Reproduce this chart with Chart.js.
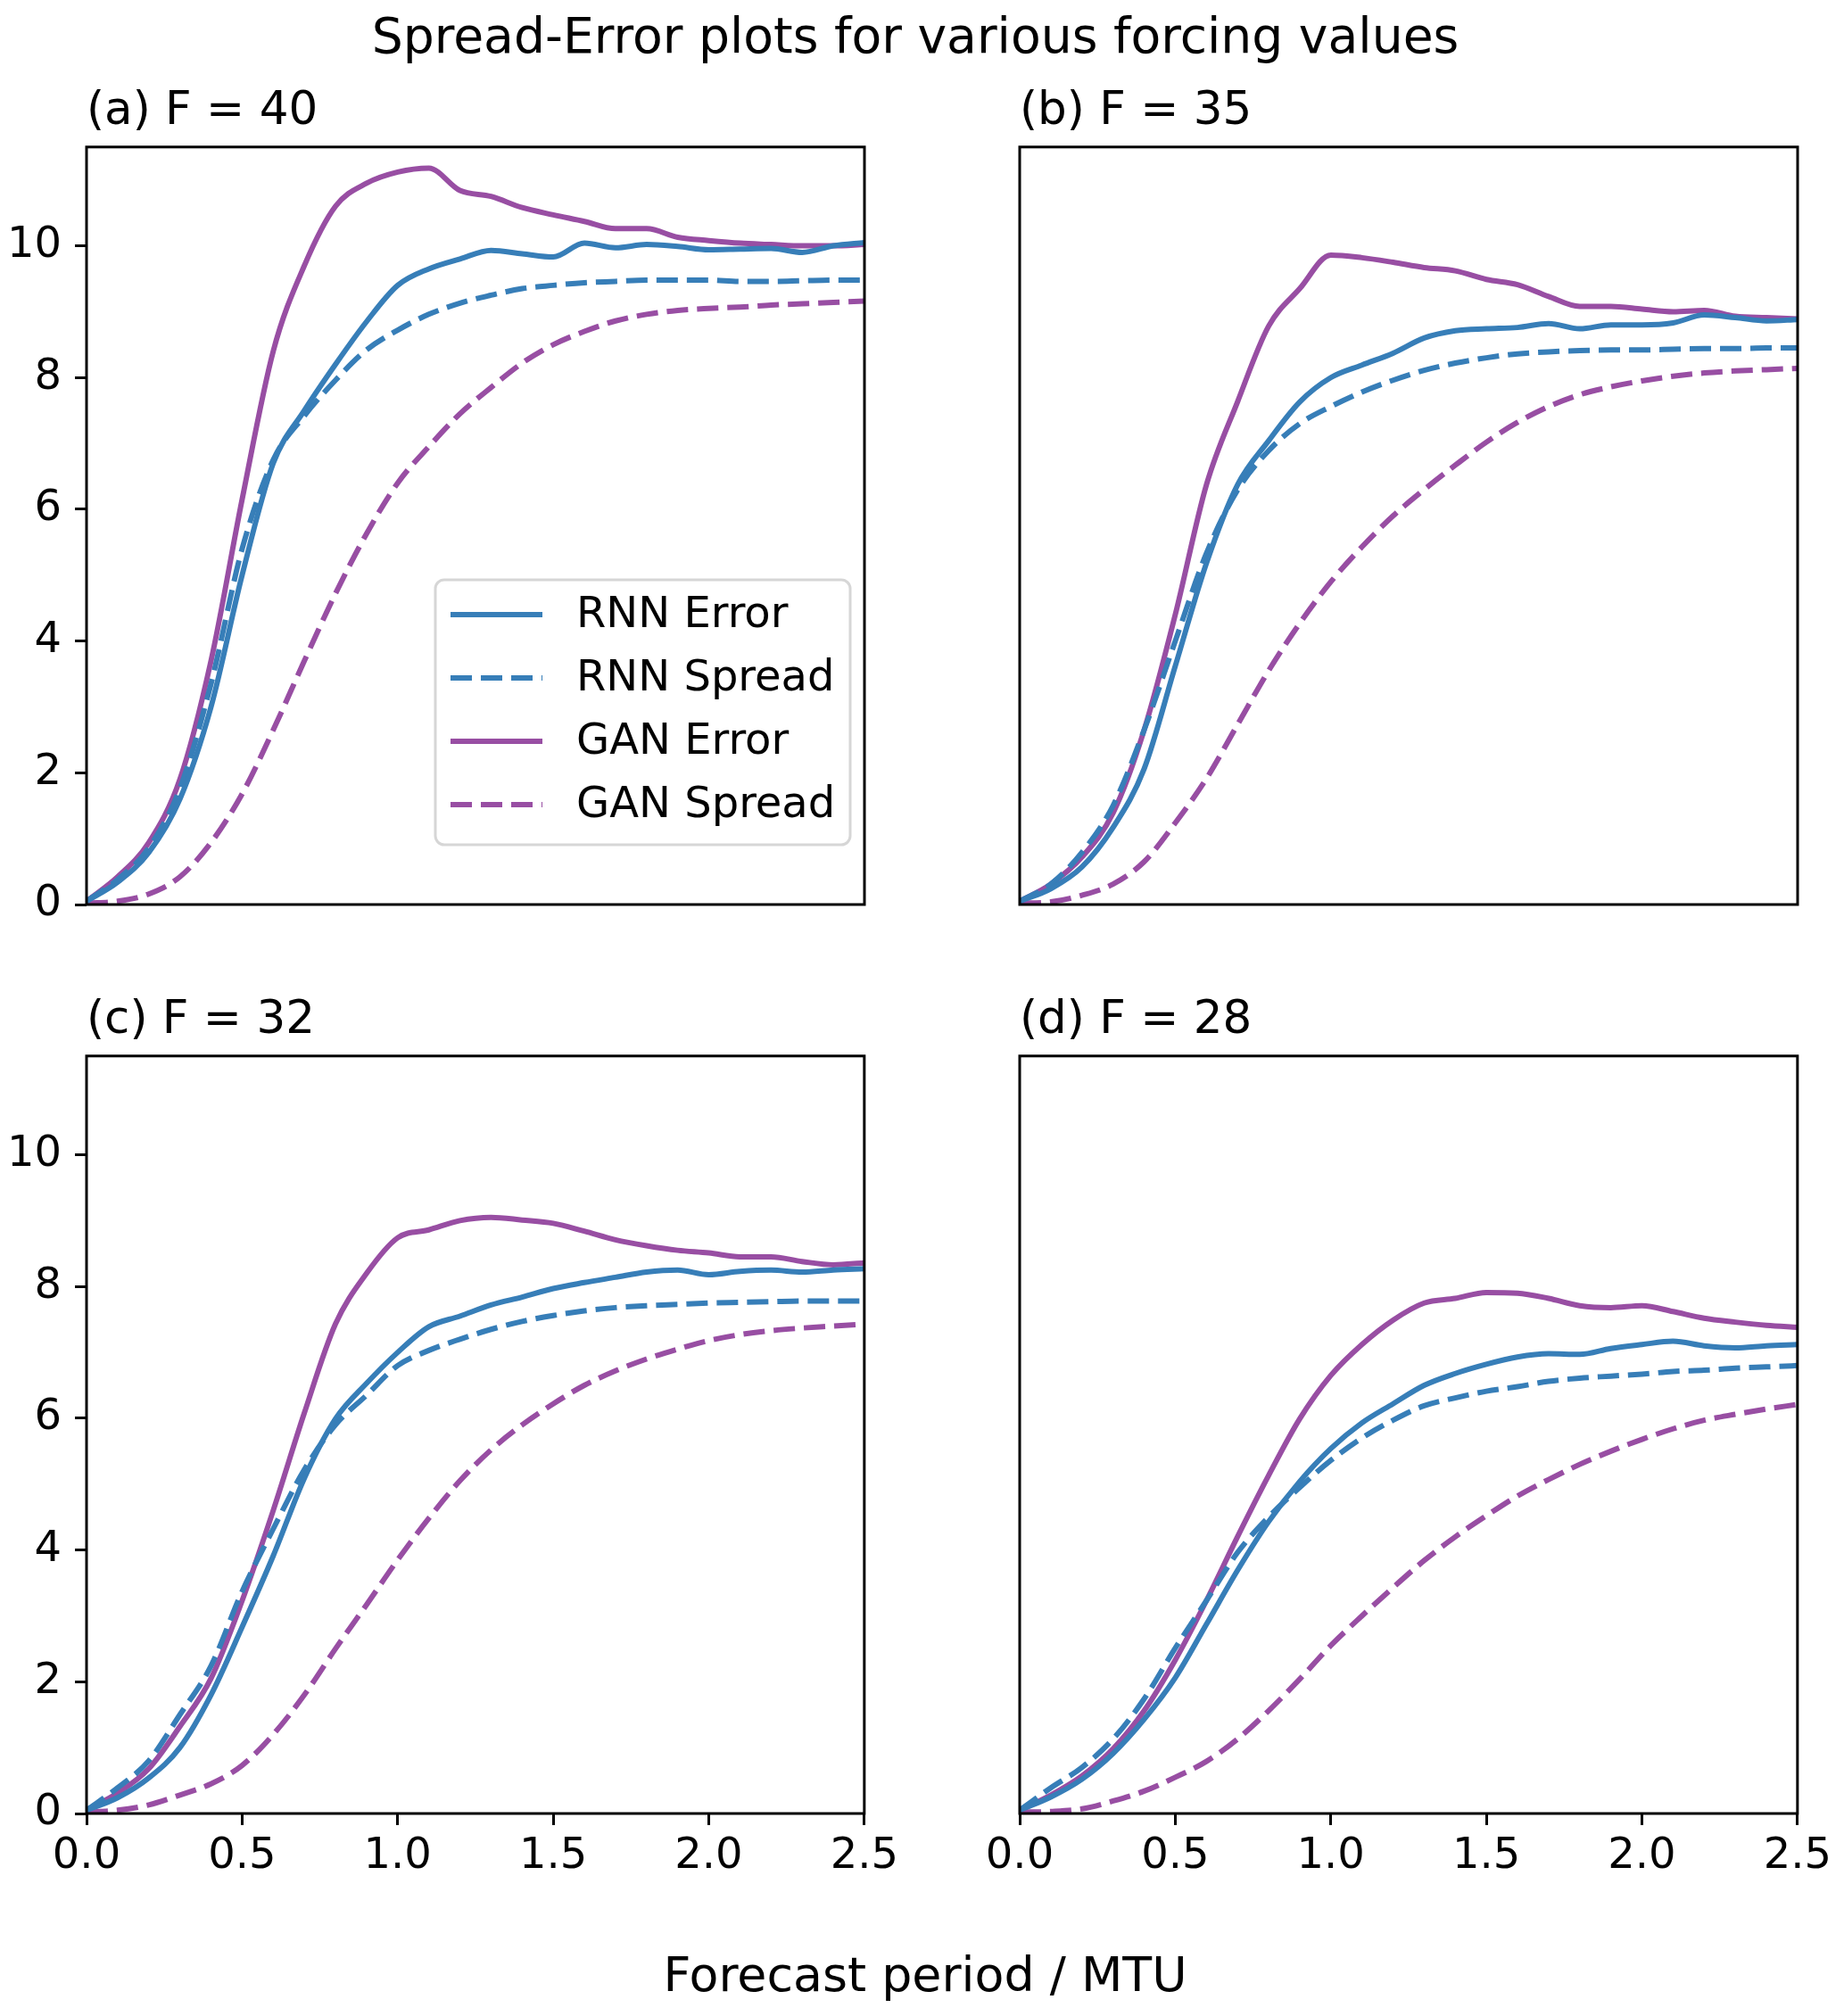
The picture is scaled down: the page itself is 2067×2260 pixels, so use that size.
<!DOCTYPE html>
<html>
<head>
<meta charset="utf-8">
<script src="https://cdn.jsdelivr.net/npm/chart.js@4.4.1/dist/chart.umd.min.js"></script>
<style>
  body { margin: 0; background: #fff; }
  #page { position: relative; width: 2067px; height: 2260px; background: #fff; font-family: 'DejaVu Sans', sans-serif; color: #000; }
  canvas { position: absolute; }
  .figtext { position: absolute; white-space: nowrap; line-height: normal; }
</style>
</head>
<body>
<div id="page">
  <div class="figtext" id="suptitle" style="left:0; width:2052px; text-align:center; top:8px; font-size:55.2px;">Spread-Error plots for various forcing values</div>
  <canvas id="panelA" width="1014" height="999" style="left:0px; top:65px;"></canvas>
  <canvas id="panelB" width="1014" height="999" style="left:1046px; top:65px;"></canvas>
  <canvas id="panelC" width="1014" height="1049" style="left:0px; top:1084px;"></canvas>
  <canvas id="panelD" width="1014" height="1049" style="left:1046px; top:1084px;"></canvas>
  <div class="figtext" id="xlabel" style="left:0; width:2074px; text-align:center; top:2182px; font-size:53.8px;">Forecast period / MTU</div>
</div>
<script>
// Data (x step 0.1 MTU)
const X_VALUES = [0, 0.1, 0.2, 0.3, 0.4, 0.5, 0.6, 0.7, 0.8, 0.9, 1.0, 1.1, 1.2, 1.3, 1.4, 1.5, 1.6, 1.7, 1.8, 1.9, 2.0, 2.1, 2.2, 2.3, 2.4, 2.5];
const X_TICKS = [0, 0.5, 1.0, 1.5, 2.0, 2.5];
const Y_TICKS = [0, 2, 4, 6, 8, 10];
const SERIES_LABELS = ['RNN Error', 'RNN Spread', 'GAN Error', 'GAN Spread'];
const PANEL_TITLES = ['(a) F = 40', '(b) F = 35', '(c) F = 32', '(d) F = 28'];

//(a) F = 40
const rnnErrorA  = [0.05, 0.34, 0.79, 1.6, 3.0, 5.0, 6.7, 7.5, 8.2, 8.85, 9.4, 9.65, 9.8, 9.93, 9.88, 9.83, 10.04, 9.97, 10.02, 9.99, 9.94, 9.95, 9.96, 9.9, 10.0, 10.05];
const rnnSpreadA = [0.05, 0.38, 0.86, 1.76, 3.35, 5.4, 6.75, 7.42, 7.96, 8.42, 8.72, 8.96, 9.13, 9.25, 9.35, 9.4, 9.44, 9.46, 9.48, 9.48, 9.48, 9.46, 9.46, 9.47, 9.48, 9.48];
const ganErrorA  = [0.05, 0.42, 0.94, 1.9, 3.7, 6.15, 8.4, 9.7, 10.6, 10.95, 11.12, 11.18, 10.84, 10.75, 10.58, 10.47, 10.37, 10.26, 10.26, 10.13, 10.08, 10.04, 10.02, 10.0, 10.0, 10.02];
const ganSpreadA = [0.02, 0.05, 0.16, 0.42, 0.94, 1.68, 2.65, 3.7, 4.72, 5.63, 6.4, 6.95, 7.45, 7.85, 8.22, 8.5, 8.7, 8.86, 8.96, 9.02, 9.05, 9.07, 9.1, 9.12, 9.14, 9.16];

//(b) F = 35
const rnnErrorB  = [0.05, 0.24, 0.57, 1.17, 2.06, 3.62, 5.18, 6.37, 7.04, 7.63, 8.0, 8.19, 8.37, 8.6, 8.71, 8.74, 8.76, 8.82, 8.74, 8.8, 8.8, 8.83, 8.95, 8.91, 8.86, 8.88];
const rnnSpreadB = [0.05, 0.31, 0.79, 1.5, 2.65, 4.0, 5.33, 6.29, 6.89, 7.3, 7.56, 7.78, 7.96, 8.11, 8.22, 8.3, 8.36, 8.39, 8.41, 8.42, 8.42, 8.43, 8.44, 8.44, 8.45, 8.45];
const ganErrorB  = [0.05, 0.31, 0.72, 1.39, 2.65, 4.4, 6.37, 7.63, 8.78, 9.35, 9.86, 9.82, 9.75, 9.67, 9.62, 9.49, 9.41, 9.23, 9.08, 9.08, 9.04, 9.0, 9.02, 8.93, 8.91, 8.89];
const ganSpreadB = [0.02, 0.04, 0.14, 0.31, 0.65, 1.24, 1.91, 2.73, 3.55, 4.27, 4.9, 5.43, 5.9, 6.3, 6.67, 7.02, 7.32, 7.56, 7.74, 7.86, 7.95, 8.02, 8.07, 8.1, 8.12, 8.14];

//(c) F = 32
const rnnErrorC  = [0.05, 0.24, 0.54, 1.0, 1.8, 2.83, 3.91, 5.09, 5.99, 6.53, 7.0, 7.39, 7.55, 7.72, 7.84, 7.97, 8.06, 8.14, 8.22, 8.25, 8.18, 8.23, 8.25, 8.22, 8.25, 8.27];
const rnnSpreadC = [0.05, 0.39, 0.8, 1.5, 2.24, 3.37, 4.32, 5.22, 5.9, 6.35, 6.8, 7.03, 7.2, 7.35, 7.47, 7.56, 7.63, 7.68, 7.71, 7.73, 7.75, 7.76, 7.77, 7.78, 7.78, 7.78];
const ganErrorC  = [0.05, 0.31, 0.68, 1.32, 2.05, 3.23, 4.6, 6.08, 7.43, 8.2, 8.74, 8.86, 9.0, 9.05, 9.01, 8.96, 8.84, 8.71, 8.62, 8.55, 8.51, 8.45, 8.45, 8.38, 8.33, 8.36];
const ganSpreadC = [0.02, 0.05, 0.13, 0.28, 0.45, 0.73, 1.2, 1.8, 2.5, 3.17, 3.85, 4.48, 5.05, 5.52, 5.9, 6.22, 6.5, 6.72, 6.9, 7.05, 7.18, 7.27, 7.33, 7.37, 7.4, 7.43];

//(d) F = 28
const rnnErrorD  = [0.05, 0.25, 0.52, 0.91, 1.43, 2.06, 2.87, 3.69, 4.43, 5.04, 5.54, 5.93, 6.22, 6.5, 6.68, 6.82, 6.93, 6.98, 6.97, 7.06, 7.12, 7.17, 7.1, 7.07, 7.1, 7.12];
const rnnSpreadD = [0.05, 0.39, 0.7, 1.13, 1.74, 2.51, 3.23, 3.96, 4.5, 4.95, 5.36, 5.7, 5.97, 6.19, 6.31, 6.41, 6.48, 6.56, 6.61, 6.64, 6.67, 6.71, 6.73, 6.76, 6.78, 6.8];
const ganErrorD  = [0.05, 0.28, 0.57, 0.98, 1.56, 2.33, 3.23, 4.2, 5.13, 5.99, 6.65, 7.12, 7.49, 7.75, 7.82, 7.91, 7.9, 7.82, 7.71, 7.68, 7.71, 7.62, 7.52, 7.46, 7.41, 7.38];
const ganSpreadD = [0.02, 0.03, 0.07, 0.19, 0.34, 0.55, 0.79, 1.13, 1.56, 2.04, 2.55, 3.0, 3.43, 3.84, 4.2, 4.52, 4.82, 5.07, 5.3, 5.5, 5.68, 5.84, 5.97, 6.06, 6.14, 6.21];

const BLUE = '#377eb8';
const PURPLE = '#984ea3';
const LINE_W = 6;
const DASH = [24, 10];
const FONT = "'DejaVu Sans'";

Chart.defaults.font.family = FONT;
Chart.defaults.color = '#000';

//black box round the plot area
const framePlugin = {
    id: 'frame',
    afterDatasetsDraw(chart) {
        let a = chart.chartArea;
        let ctx = chart.ctx;
        ctx.save();
        ctx.lineWidth = 3;
        ctx.strokeStyle = '#000';
        ctx.strokeRect(a.left, a.top, a.right - a.left, a.bottom - a.top);
        ctx.restore();
    }
};

//matplotlib style legend, lower right inside panel (a)
const boxLegendPlugin = {
    id: 'boxLegend',
    afterDraw(chart) {
        let a = chart.chartArea;
        let ctx = chart.ctx;
        let w = 465, h = 297;
        let left = a.right - 16 - w;
        let top = a.bottom - 67 - h;
        ctx.save();
        ctx.beginPath();
        ctx.roundRect(left, top, w, h, 10);
        ctx.fillStyle = 'rgba(255,255,255,0.8)';
        ctx.fill();
        ctx.lineWidth = 3;
        ctx.strokeStyle = '#d6d6d6';
        ctx.stroke();
        chart.data.datasets.forEach((ds, i) => {
            let y = top + 39 + i * 71;
            ctx.beginPath();
            ctx.setLineDash(ds.borderDash);
            ctx.lineWidth = ds.borderWidth;
            ctx.strokeStyle = ds.borderColor;
            ctx.moveTo(left + 17, y);
            ctx.lineTo(left + 120, y);
            ctx.stroke();
            ctx.setLineDash([]);
            ctx.fillStyle = '#000';
            ctx.font = '48px ' + FONT;
            ctx.textBaseline = 'middle';
            ctx.textAlign = 'left';
            ctx.fillText(ds.label, left + 158, y + 2);
        });
        ctx.restore();
    }
};

function makeDataset(label, values, color, dashed) {
    return {
        label: label,
        data: values,
        borderColor: color,
        backgroundColor: color,
        borderWidth: LINE_W,
        borderDash: dashed ? DASH : [],
        pointRadius: 0,
        fill: false,
        cubicInterpolationMode: 'monotone'
    };
}

function makePanel(id, title, series, showX, showY, withLegend) {
    let ctx = document.getElementById(id).getContext('2d');
    let plugins = [framePlugin];
    if (withLegend) plugins.push(boxLegendPlugin);
    return new Chart(ctx, {
        type: 'line',
        data: {
            labels: X_VALUES,
            datasets: [
                makeDataset(SERIES_LABELS[0], series[0], BLUE, false),
                makeDataset(SERIES_LABELS[1], series[1], BLUE, true),
                makeDataset(SERIES_LABELS[2], series[2], PURPLE, false),
                makeDataset(SERIES_LABELS[3], series[3], PURPLE, true)
            ]
        },
        plugins: plugins,
        options: {
            responsive: false,
            animation: false,
            devicePixelRatio: 1,
            layout: { padding: { left: 0, right: 45, top: 0, bottom: 0 } },
            plugins: {
                legend: { display: false },
                tooltip: { enabled: false },
                title: {
                    display: true,
                    text: title,
                    align: 'start',
                    fullSize: false,
                    color: '#000',
                    font: { size: 51.5, weight: 'normal', family: FONT, lineHeight: 1.2 },
                    padding: { top: 30, bottom: 8 }
                }
            },
            scales: {
                x: {
                    type: 'linear',
                    min: 0,
                    max: 2.5,
                    afterBuildTicks: s => { s.ticks = X_TICKS.map(v => ({ value: v })); },
                    afterFit: s => { s.height = showX ? 100 : 50; },
                    border: { display: false },
                    grid: { display: showX, drawOnChartArea: false, drawTicks: true, tickLength: 13, tickWidth: 3, tickColor: '#000' },
                    ticks: {
                        display: showX,
                        padding: 7,
                        maxRotation: 0,
                        autoSkip: false,
                        font: { size: 48 },
                        callback: v => Number(v).toFixed(1)
                    }
                },
                y: {
                    type: 'linear',
                    min: 0,
                    max: 11.5,
                    afterBuildTicks: s => { s.ticks = Y_TICKS.map(v => ({ value: v })); },
                    afterFit: s => { s.width = 97; },
                    border: { display: false },
                    grid: { display: showY, drawOnChartArea: false, drawTicks: true, tickLength: 13, tickWidth: 3, tickColor: '#000' },
                    ticks: {
                        display: showY,
                        padding: 15,
                        font: { size: 48 },
                        callback: v => String(v)
                    }
                }
            }
        }
    });
}

makePanel('panelA', PANEL_TITLES[0], [rnnErrorA, rnnSpreadA, ganErrorA, ganSpreadA], false, true, true);
makePanel('panelB', PANEL_TITLES[1], [rnnErrorB, rnnSpreadB, ganErrorB, ganSpreadB], false, false, false);
makePanel('panelC', PANEL_TITLES[2], [rnnErrorC, rnnSpreadC, ganErrorC, ganSpreadC], true, true, false);
makePanel('panelD', PANEL_TITLES[3], [rnnErrorD, rnnSpreadD, ganErrorD, ganSpreadD], true, false, false);
</script>
</body>
</html>
